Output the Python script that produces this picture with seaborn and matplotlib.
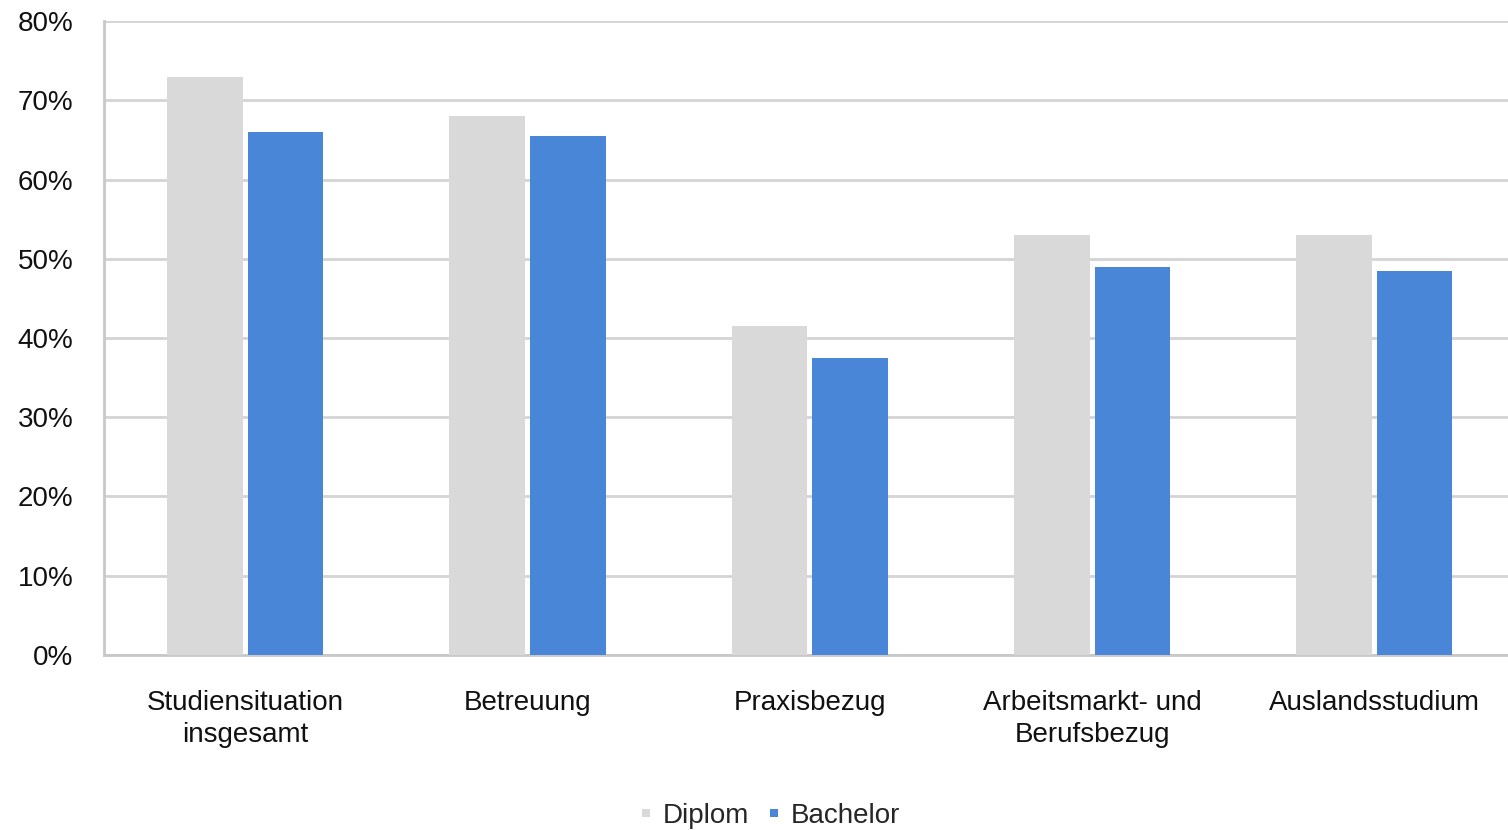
import matplotlib
matplotlib.use("Agg")
import matplotlib.pyplot as plt
from matplotlib.lines import Line2D
from matplotlib.ticker import FuncFormatter
import pandas as pd
import seaborn as sns

categories = ["Studiensituation\ninsgesamt", "Betreuung", "Praxisbezug",
              "Arbeitsmarkt- und\nBerufsbezug", "Auslandsstudium"]
diplom = [73, 68, 41.5, 53, 53]
bachelor = [66, 65.5, 37.5, 49, 48.5]
series = ["Diplom", "Bachelor"]
colors = {"Diplom": "#d9d9d9", "Bachelor": "#4a86d8"}

df = pd.DataFrame({
    "Kategorie": categories * 2,
    "Abschluss": ["Diplom"] * len(categories) + ["Bachelor"] * len(categories),
    "Wert": diplom + bachelor,
})

sns.set_theme(style="white")
plt.rcParams["font.family"] = ["Liberation Sans", "DejaVu Sans"]

fig = plt.figure(figsize=(15.08, 8.3), dpi=100)
ax = fig.add_axes([0.069, 0.211, 0.936, 0.7636])

sns.barplot(data=df, x="Kategorie", y="Wert", hue="Abschluss",
            hue_order=series, palette=colors, width=0.57, gap=0.06,
            linewidth=0, saturation=1, ax=ax, legend=False, zorder=3)

ax.set_xlim(-0.5, 4.5)
ax.set_ylim(0, 80)
ax.set_yticks(range(0, 81, 10))
ax.yaxis.set_major_formatter(FuncFormatter(lambda v, _: f"{v:.0f}%"))
ax.grid(axis="y", color="#d4d4d4", linewidth=2, zorder=0)
ax.set_axisbelow(True)
ax.set_xlabel("")
ax.set_ylabel("")

for side in ["top", "right"]:
    ax.spines[side].set_visible(False)
for side in ["left", "bottom"]:
    ax.spines[side].set_color("#c8c8c8")
    ax.spines[side].set_linewidth(2)

ax.tick_params(axis="y", length=0, pad=22, labelsize=20, labelcolor="#111111")
ax.tick_params(axis="x", length=0, pad=25, labelsize=20, labelcolor="#111111")
for lbl in ax.get_xticklabels():
    lbl.set_linespacing(1.32)

handles = [Line2D([0], [0], marker="s", linestyle="", markersize=6,
                  markerfacecolor=colors[s], markeredgewidth=0) for s in series]
fig.legend(handles, series, loc="center", bbox_to_anchor=(0.51, 0.017),
           ncol=2, frameon=False, fontsize=20, handlelength=0.6,
           handletextpad=0.3, columnspacing=0.6)

fig.savefig("out.png", dpi=100)
